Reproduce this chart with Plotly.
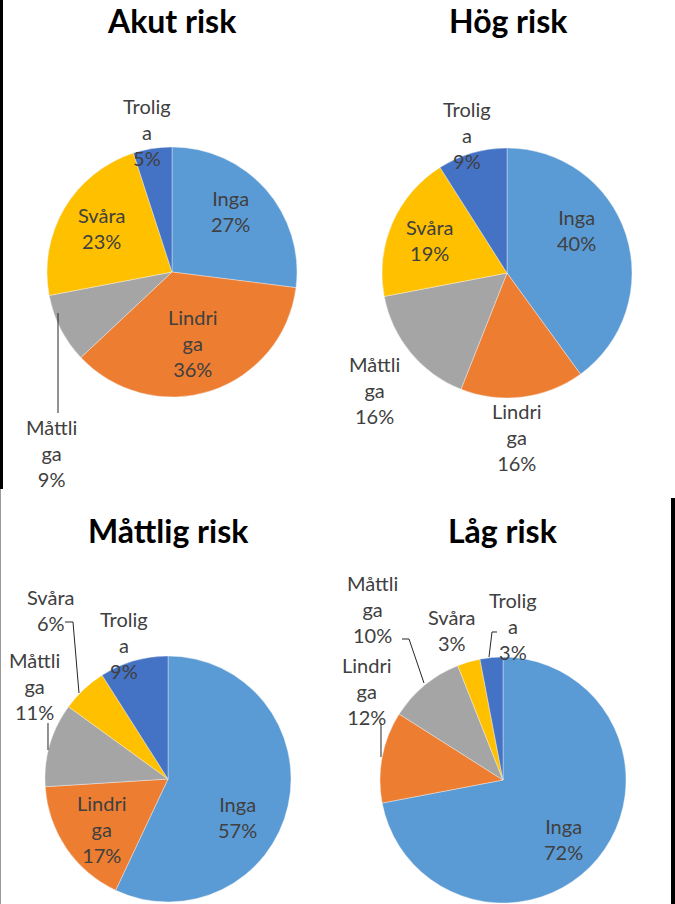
import plotly.graph_objects as go

W, H = 675, 904

categories = ["Inga", "Lindriga", "Måttliga", "Svåra", "Troliga"]
wrapped_names = ["Inga", "Lindri<br>ga", "Måttli<br>ga", "Svåra", "Trolig<br>a"]
titles = ["Akut risk", "Hög risk", "Måttlig risk", "Låg risk"]
akut = [27, 36, 9, 23, 5]
hog = [40, 16, 16, 19, 9]
mattlig = [57, 17, 11, 6, 9]
lag = [72, 12, 10, 3, 3]
series = [akut, hog, mattlig, lag]
colors = ["#5B9BD5", "#ED7D31", "#A5A5A5", "#FFC000", "#4472C4"]

# layout (pixels): pie centre, radius, title centre
pies = [
    dict(cx=172, cy=272, r=125, tx=172, ty=21),
    dict(cx=507, cy=273, r=125, tx=508, ty=21),
    dict(cx=168, cy=779, r=123, tx=168, ty=530),
    dict(cx=503, cy=780, r=123, tx=503, ty=530),
]
# label centres (pixels, centre of the multi-line block) per chart, in category order
label_pos = [
    [(230, 211), (193, 343), (51, 453), (101, 228), (147, 132)],
    [(576, 230), (517, 437), (374, 390), (429, 240), (467, 135)],
    [(237, 817), (102, 829), (34, 686), (50, 610), (124, 645)],
    [(563, 839), (367, 691), (372, 609), (452, 630), (513, 626)],
]
# leader lines (pixels)
leaders = [
    [(58, 313), (58, 413)],
    [(65, 622), (73, 622), (79, 693)],
    [(48, 723), (48, 750)],
    [(402, 639), (409, 639), (424, 683)],
    [(381, 723), (381, 757)],
    [(497, 632), (492, 632), (489, 657)],
]


def px(x):
    return x / W


def py(y):
    return 1 - y / H


fig = go.Figure()
annotations = []
shapes = []
for k, vals in enumerate(series):
    p = pies[k]
    fig.add_trace(go.Pie(
        labels=categories,
        values=vals,
        sort=False,
        direction="clockwise",
        rotation=0,
        textinfo="none",
        hoverinfo="label+percent",
        marker=dict(colors=colors, line=dict(color="#f4f4f4", width=0.4)),
        domain=dict(x=[px(p["cx"] - p["r"]), px(p["cx"] + p["r"])],
                    y=[py(p["cy"] + p["r"]), py(p["cy"] - p["r"])]),
        showlegend=False,
    ))
    annotations.append(dict(
        text="<b>%s</b>" % titles[k], x=px(p["tx"]), y=py(p["ty"]),
        xref="paper", yref="paper", showarrow=False, xanchor="center", yanchor="middle",
        font=dict(family="Lato", size=32, color="#000000"),
    ))
    for i, v in enumerate(vals):
        lx, ly = label_pos[k][i]
        annotations.append(dict(
            text="%s<br>%d%%" % (wrapped_names[i], v), x=px(lx), y=py(ly),
            xref="paper", yref="paper", showarrow=False, xanchor="center", yanchor="middle",
            align="center", font=dict(family="Lato", size=20, color="#404040"),
        ))

for pts in leaders:
    path = "M " + " L ".join("%f,%f" % (px(x), py(y)) for x, y in pts)
    shapes.append(dict(type="path", path=path, xref="paper", yref="paper",
                       line=dict(color="#262626", width=1)))

# black frame fragments
shapes.append(dict(type="rect", xref="paper", yref="paper", x0=px(0), x1=px(3), y0=py(489), y1=py(0),
                   fillcolor="black", line=dict(width=0)))
shapes.append(dict(type="rect", xref="paper", yref="paper", x0=px(671), x1=px(675), y0=py(904), y1=py(498),
                   fillcolor="black", line=dict(width=0)))
shapes.append(dict(type="line", xref="paper", yref="paper", x0=px(0.5), x1=px(0.5), y0=py(904), y1=py(489),
                   line=dict(color="#9a9a9a", width=1)))

fig.update_layout(
    width=W, height=H,
    margin=dict(l=0, r=0, t=0, b=0),
    paper_bgcolor="white", plot_bgcolor="white",
    annotations=annotations, shapes=shapes,
)
fig.write_html("out.html")
